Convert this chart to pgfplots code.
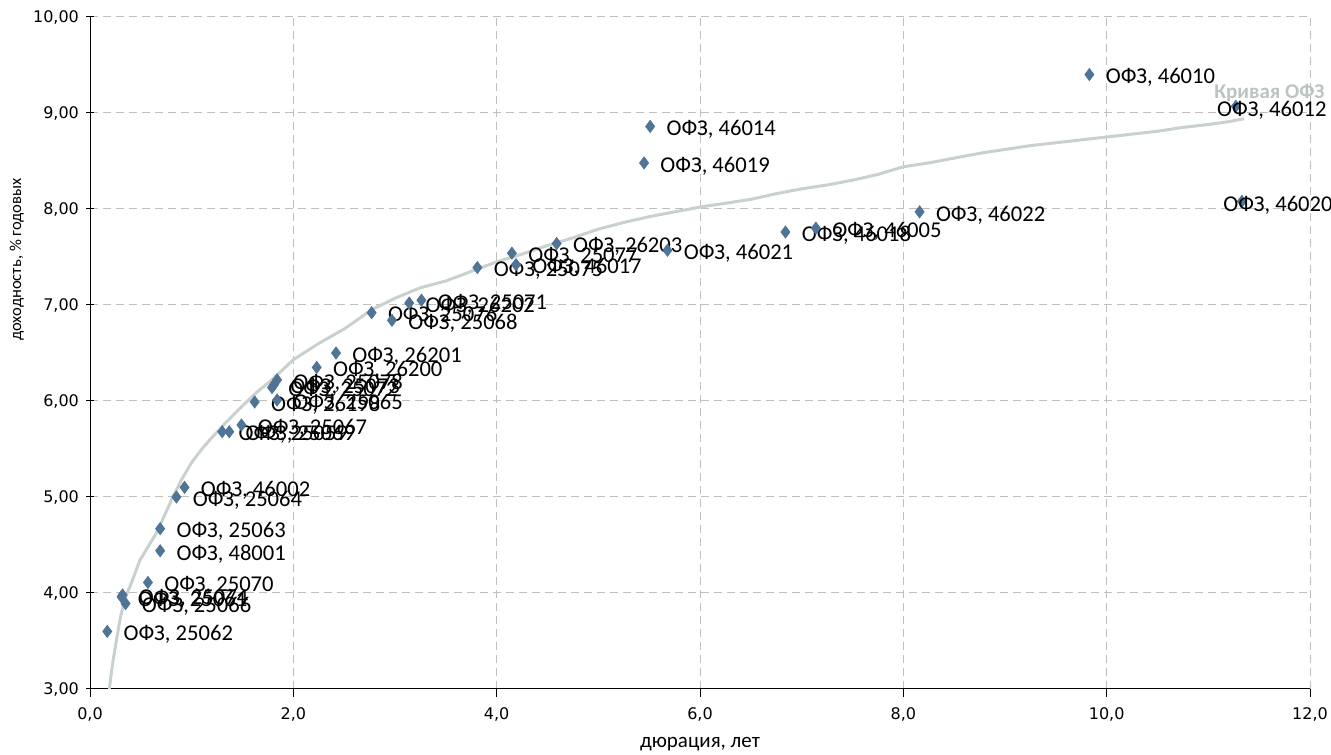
\documentclass[border=0pt]{standalone}
\usepackage{pgfplots}
\pgfplotsset{compat=1.18}
\usepackage{pgfplotstable}
\usepackage{fontspec}
\setmainfont{Carlito}
\newfontfamily\dejavu{DejaVu Sans}
\definecolor{pt}{RGB}{79,116,149}
\definecolor{crv}{RGB}{200,209,206}
\definecolor{crvtxt}{RGB}{186,196,194}
\definecolor{grd}{RGB}{190,190,190}

\pgfplotstableread{
x y lab
0.17 3.60 25062
0.32 3.98 25074
0.31 3.96 25061
0.35 3.89 25066
0.57 4.11 25070
0.69 4.44 48001
0.69 4.67 25063
0.85 5.00 25064
0.93 5.10 46002
1.30 5.68 25059
1.37 5.68 25069
1.49 5.75 25067
1.62 5.99 26198
1.84 6.01 25065
1.79 6.14 25072
1.81 6.17 25073
1.84 6.22 25078
2.23 6.35 26200
2.42 6.50 26201
2.77 6.92 25076
2.97 6.84 25068
3.14 7.02 26202
3.26 7.05 25071
3.81 7.39 25075
4.19 7.42 46017
4.15 7.54 25077
4.59 7.64 26203
5.68 7.57 46021
5.45 8.48 46019
5.51 8.86 46014
6.84 7.76 46018
7.14 7.80 46005
8.16 7.97 46022
9.83 9.40 46010
}\bonds

\pgfplotstableread{
x y lab
11.27 9.07 46012
11.33 8.08 46020
}\bondsleft

\pgfplotstableread{
x y
0.19 3.00
0.22 3.25
0.26 3.51
0.30 3.75
0.34 3.93
0.42 4.14
0.49 4.34
0.57 4.48
0.65 4.62
0.73 4.80
0.81 4.99
0.90 5.18
1.00 5.36
1.10 5.50
1.20 5.62
1.35 5.79
1.50 5.95
1.65 6.10
1.80 6.23
2.00 6.43
2.25 6.60
2.50 6.75
2.77 6.95
3.00 7.07
3.25 7.18
3.50 7.25
3.75 7.35
4.00 7.45
4.25 7.53
4.50 7.62
4.75 7.70
5.00 7.79
5.25 7.86
5.50 7.92
5.75 7.97
6.00 8.02
6.25 8.06
6.50 8.10
6.75 8.16
7.00 8.21
7.25 8.25
7.50 8.30
7.75 8.36
8.00 8.44
8.25 8.48
8.50 8.53
8.75 8.58
9.00 8.62
9.25 8.66
9.50 8.69
9.75 8.72
10.00 8.75
10.25 8.78
10.50 8.81
10.75 8.85
11.00 8.88
11.20 8.91
11.35 8.94
}\curve

\begin{document}
\begin{tikzpicture}
\begin{axis}[
  at={(0,0)}, anchor=south west,
  scale only axis,
  width=610pt, height=336pt,
  xmin=0, xmax=12, ymin=3, ymax=10,
  xtick={0,2,...,12}, ytick={3,4,...,10},
  axis x line=bottom, axis y line=left,
  axis line style={-, black, line width=0.5pt},
  tick style={black, line width=0.5pt},
  xtick align=outside,
  ytick align=center,
  major tick length=4pt,
  grid=major,
  major grid style={grd, dash pattern=on 4pt off 2.5pt, line width=0.5pt},
  clip=false,
  /pgf/number format/assume math mode=true,
  xticklabel style={font=\dejavu\fontsize{8}{9}\selectfont, yshift=-2pt, /pgf/number format/.cd, fixed, fixed zerofill, precision=1, use comma},
  yticklabel style={font=\dejavu\fontsize{8}{9}\selectfont, /pgf/number format/.cd, fixed, fixed zerofill, precision=2, use comma},
  xlabel={дюрация, лет},
  ylabel={доходность, \% годовых},
  xlabel style={font=\fontsize{10.5}{11}\selectfont, at={(axis description cs:0.5,0)}, anchor=center, yshift=-27.5pt},
  ylabel style={font=\fontsize{8.3}{9}\selectfont, at={(axis description cs:-0.06,0.639)}, anchor=center},
]
\addplot[crv, line width=1.5pt, no markers] table[x=x,y=y] {\curve};
\addplot[only marks, mark=diamond*, mark size=3pt, mark options={fill=pt, draw=pt},
  point meta=explicit symbolic,
  nodes near coords={ОФЗ, \pgfplotspointmeta},
  every node near coord/.style={anchor=west, xshift=8pt, yshift=-1.5pt, inner sep=0pt, font=\fontsize{11.3}{12}\selectfont, black}
] table[x=x,y=y,meta=lab] {\bonds};
\addplot[only marks, mark=diamond*, mark size=3pt, mark options={fill=pt, draw=pt},
  point meta=explicit symbolic,
  nodes near coords={ОФЗ, \pgfplotspointmeta},
  every node near coord/.style={anchor=west, xshift=-9.5pt, yshift=-2pt, inner sep=0pt, font=\fontsize{11.3}{12}\selectfont, black}
] table[x=x,y=y,meta=lab] {\bondsleft};
\node[font=\bfseries\fontsize{10.5}{11}\selectfont, text=crvtxt, inner sep=0pt] at (axis cs:11.6,9.21) {Кривая ОФЗ};
\end{axis}
\pgfresetboundingbox
\useasboundingbox (-45pt,-32.5pt) rectangle (620.5pt,344.5pt);
\end{tikzpicture}
\end{document}
